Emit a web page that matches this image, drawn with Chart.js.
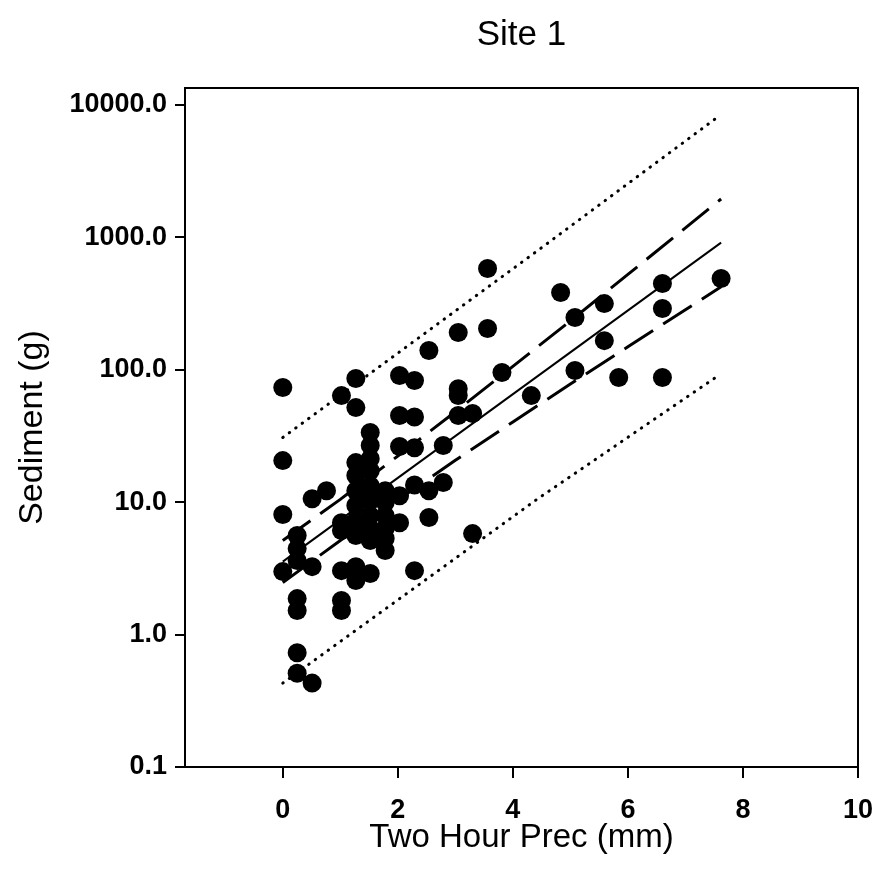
<!DOCTYPE html>
<html>
<head>
<meta charset="utf-8">
<script src="https://cdn.jsdelivr.net/npm/chart.js@4/dist/chart.umd.min.js"></script>
<style>
html,body{margin:0;padding:0;background:#fff;}
#wrap{width:876px;height:879px;}
</style>
</head>
<body>
<div id="wrap"><canvas id="c" width="876" height="879"></canvas></div>
<script>
// Observed events: two-hour precipitation (mm) and sediment (g)
const precip = [
  0, 0, 0, 0,
  0.25, 0.25, 0.25, 0.25, 0.25, 0.25, 0.25,
  0.51, 0.51, 0.51,
  0.76,
  1.02, 1.02, 1.02, 1.02, 1.02, 1.02,
  1.27, 1.27, 1.27, 1.27, 1.27, 1.27, 1.27, 1.27, 1.27, 1.27,
  1.52, 1.52, 1.52, 1.52, 1.52, 1.52, 1.52, 1.52, 1.52, 1.52,
  1.78, 1.78, 1.78, 1.78, 1.78, 1.78,
  2.03, 2.03, 2.03, 2.03, 2.03,
  2.29, 2.29, 2.29, 2.29, 2.29,
  2.54, 2.54, 2.54,
  2.79, 2.79,
  3.05, 3.05, 3.05, 3.05,
  3.30, 3.30,
  3.56, 3.56,
  3.81,
  4.32,
  4.83,
  5.08, 5.08,
  5.59, 5.59,
  5.84,
  6.60, 6.60, 6.60,
  7.62
];
const sediment = [
  73.4, 20.6, 8.06, 2.99,
  5.6, 4.46, 3.62, 1.87, 1.52, 0.73, 0.51,
  10.6, 3.26, 0.43,
  12.2,
  63.8, 7.0, 6.1, 3.04, 1.81, 1.52,
  85.9, 51.8, 19.9, 15.9, 12.2, 9.43, 7.26, 5.6, 3.26, 2.56,
  33.6, 26.8, 21.3, 17.3, 13.3, 10.3, 7.92, 6.32, 5.13, 2.89,
  12.2, 9.93, 7.92, 6.32, 5.31, 4.31,
  90.4, 45.1, 26.3, 11.2, 7.0,
  82.9, 44.0, 25.8, 13.5, 3.04,
  140, 12.2, 7.65,
  26.8, 14.1,
  191, 72.0, 64.0, 45.1,
  46.7, 5.79,
  581, 205,
  95.3,
  63.8,
  383,
  248, 98.6,
  316, 166,
  87.3,
  448, 290, 87.3,
  489
];

// Regression line
const fitX = [0, 7.62];
const fitY = [3.56, 912];

// Confidence band (dashed)
const ciX = [0, 1, 2, 3, 4, 5, 6, 7, 7.62];
const ciUpper = [5.13, 10.5, 22.3, 48.2, 106, 234, 525, 1180, 1950];
const ciLower = [2.47, 5.14, 10.4, 20.7, 40.4, 78.0, 149, 284, 424];

// Prediction band (dotted)
const piX = [0, 4.43, 7.55];
const piUpper = [30.8, 794, 8040];
const piLower = [0.43, 10.6, 89];

// Axis ticks
const xTicks = [0, 2, 4, 6, 8, 10];
const yTicks = [0.1, 1, 10, 100, 1000, 10000];

const FONT = "'Liberation Sans', Arial, Helvetica, sans-serif";
const pts = (xs, ys) => xs.map((x, i) => ({x: x, y: ys[i]}));

const lineDs = (label, xs, ys, extra) => Object.assign({
  type: 'line', label: label, data: pts(xs, ys),
  borderColor: '#000', backgroundColor: '#000',
  pointRadius: 0, pointHoverRadius: 0, fill: false, tension: 0,
  xAxisID: 'x', yAxisID: 'y'
}, extra);

new Chart(document.getElementById('c'), {
  type: 'scatter',
  data: {
    datasets: [
      {
        label: 'Observed', data: pts(precip, sediment),
        pointRadius: 9.5, pointHoverRadius: 9.5,
        backgroundColor: '#000', borderColor: '#000', borderWidth: 0,
        xAxisID: 'x', yAxisID: 'y'
      },
      lineDs('Fit', fitX, fitY, {borderWidth: 2}),
      lineDs('CI upper', ciX, ciUpper, {borderWidth: 3, borderDash: [34, 12]}),
      lineDs('CI lower', ciX, ciLower, {borderWidth: 3, borderDash: [34, 12]}),
      lineDs('PI upper', piX, piUpper, {borderWidth: 3, borderDash: [0.5, 7.5], borderCapStyle: 'round'}),
      lineDs('PI lower', piX, piLower, {borderWidth: 3, borderDash: [0.5, 7.5], borderCapStyle: 'round'})
    ]
  },
  options: {
    responsive: false,
    animation: false,
    devicePixelRatio: 1,
    layout: {padding: 0},
    plugins: {
      legend: {display: false},
      tooltip: {enabled: false},
      title: {
        display: true, text: 'Site 1', fullSize: false, color: '#000',
        font: {family: FONT, size: 35, weight: 'normal'},
        padding: {top: 14, bottom: 32}
      }
    },
    scales: {
      x: {
        type: 'linear', position: 'bottom', min: -1.7, max: 10,
        afterBuildTicks: s => { s.ticks = xTicks.map(v => ({value: v})); },
        afterFit: s => { s.height = 112; s.paddingLeft = 0; s.paddingRight = 0; },
        grid: {display: true, drawOnChartArea: false, drawTicks: true, tickLength: 11, color: '#000', lineWidth: 2},
        border: {display: true, color: '#000', width: 2},
        ticks: {color: '#000', font: {family: FONT, size: 27, weight: 'bold'}, padding: 16, maxRotation: 0, minRotation: 0,
          callback: v => String(v)},
        title: {display: true, text: 'Two Hour Prec (mm)', color: '#000',
          font: {family: FONT, size: 33, weight: 'normal'}, padding: {top: 0, bottom: 21}}
      },
      y: {
        type: 'logarithmic', position: 'left', min: 0.1, max: 13430,
        afterBuildTicks: s => { s.ticks = yTicks.map(v => ({value: v})); },
        afterFit: s => { s.width = 185; s.paddingTop = 0; s.paddingBottom = 0; },
        grid: {display: true, drawOnChartArea: false, drawTicks: true, tickLength: 10, color: '#000', lineWidth: 2},
        border: {display: true, color: '#000', width: 2},
        ticks: {color: '#000', font: {family: FONT, size: 27, weight: 'bold'}, padding: 8,
          callback: v => Number(v).toFixed(1)},
        title: {display: true, text: 'Sediment (g)', color: '#000',
          font: {family: FONT, size: 34, weight: 'normal'}, padding: {top: 12, bottom: 0}}
      },
      xTop: {
        axis: 'x', type: 'linear', position: 'top', min: -1.7, max: 10,
        grid: {display: false}, ticks: {display: false},
        border: {display: true, color: '#000', width: 2},
        afterFit: s => { s.height = 0; s.paddingLeft = 0; s.paddingRight = 0; }
      },
      yRight: {
        axis: 'y', type: 'linear', position: 'right', min: 0, max: 1,
        grid: {display: false}, ticks: {display: false},
        border: {display: true, color: '#000', width: 2},
        afterFit: s => { s.width = 18; s.paddingTop = 0; s.paddingBottom = 0; }
      }
    }
  }
});
</script>
</body>
</html>
